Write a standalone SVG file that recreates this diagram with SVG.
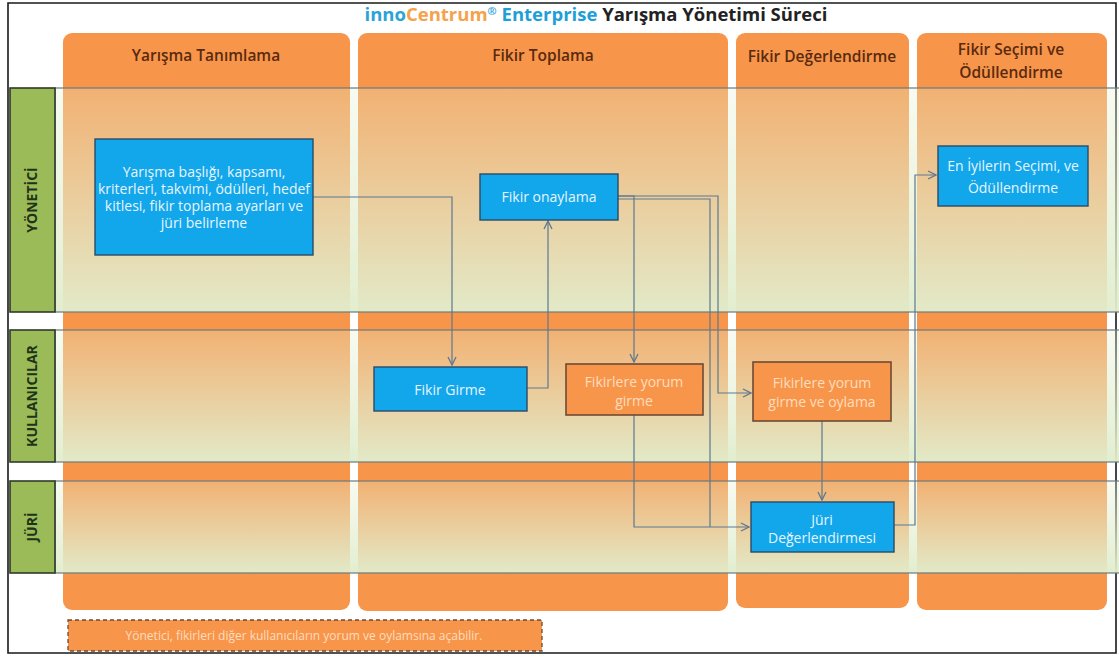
<svg xmlns="http://www.w3.org/2000/svg" width="1119" height="657" viewBox="0 0 1119 657">
<defs>
<linearGradient id="laneG" x1="0" y1="0" x2="0" y2="1">
<stop offset="0" stop-color="#e4f0d2" stop-opacity="0.3"/>
<stop offset="1" stop-color="#e1edcd" stop-opacity="0.96"/>
</linearGradient>
<marker id="arr" viewBox="0 0 10 10" refX="9" refY="5" markerWidth="10" markerHeight="10" markerUnits="userSpaceOnUse" orient="auto">
<path d="M1,1 L9,5 L1,9" fill="none" stroke="#5d7890" stroke-width="1.3"/>
</marker>
<style>
.col{fill:#f7964a;}
.lane{fill:url(#laneG);stroke:#6c7a7c;stroke-width:1.2;}
.lab{fill:#9bbb59;stroke:#2f3a2a;stroke-width:1.6;}
.labt{font-family:"Open Sans","DejaVu Sans",sans-serif;font-size:14px;font-weight:700;fill:#1f3318;text-anchor:middle;}
.hdr{font-family:"Open Sans","DejaVu Sans",sans-serif;font-size:15.5px;font-weight:600;fill:#5a2a10;text-anchor:middle;}
.blue{fill:#12a6ea;stroke:#2b4a66;stroke-width:1.4;}
.orng{fill:#f7964a;stroke:#6f4a33;stroke-width:1.6;}
.nt{font-family:"Open Sans","DejaVu Sans",sans-serif;font-size:14px;fill:#e6f5ff;text-anchor:middle;}
.ot{font-family:"Open Sans","DejaVu Sans",sans-serif;font-size:14px;fill:#ffdcbf;text-anchor:middle;}
.con{fill:none;stroke:#5d7890;stroke-width:1.2;}
</style>
</defs>
<rect x="0" y="0" width="1119" height="657" fill="#ffffff"/>
<!-- frame -->
<path d="M8,3 H1116 V653 H8 Z" fill="none" stroke="#1a1a1a" stroke-width="1.6"/>
<!-- title -->
<text x="596" y="21" text-anchor="middle" font-family="'Open Sans','DejaVu Sans',sans-serif" font-size="18.5" font-weight="700"><tspan fill="#2aa3d6">inno</tspan><tspan fill="#f5a24a">Centrum</tspan><tspan fill="#2aa3d6" font-size="11" dy="-6">®</tspan><tspan fill="#1e9fd8" dy="6"> Enterprise</tspan><tspan fill="#222222"> Yarışma Yönetimi Süreci</tspan></text>
<!-- columns -->
<g id="columns">
<rect class="col" x="63" y="33" width="287" height="577" rx="9"/>
<rect class="col" x="358" y="33" width="370" height="578" rx="9"/>
<rect class="col" x="736" y="33" width="173" height="575" rx="9"/>
<rect class="col" x="917" y="33" width="190" height="577" rx="9"/>
<text class="hdr" x="206" y="61">Yarışma Tanımlama</text>
<text class="hdr" x="543" y="61">Fikir Toplama</text>
<text class="hdr" x="822" y="62">Fikir Değerlendirme</text>
<text class="hdr" x="1011" y="55">Fikir Seçimi ve</text>
<text class="hdr" x="1011" y="78">Ödüllendirme</text>
</g>
<!-- lanes -->
<g id="lane-yonetici">
<rect class="lane" x="55" y="88" width="1066" height="224"/>
<rect class="lab" x="10" y="88" width="45" height="224"/>
<text class="labt" transform="translate(37,200) rotate(-90)">YÖNETİCİ</text>
</g>
<g id="lane-kullanicilar">
<rect class="lane" x="55" y="330" width="1066" height="132"/>
<rect class="lab" x="10" y="330" width="45" height="132"/>
<text class="labt" transform="translate(37,396) rotate(-90)" font-size="14.5">KULLANICILAR</text>
</g>
<g id="lane-juri">
<rect class="lane" x="55" y="481" width="1066" height="92"/>
<rect class="lab" x="10" y="481" width="45" height="92"/>
<text class="labt" transform="translate(37,527) rotate(-90)">JÜRİ</text>
</g>
<!-- connectors -->
<g id="connectors">
<path class="con" d="M313,197 H452 V365" marker-end="url(#arr)"/>
<path class="con" d="M527,388 H548 V221" marker-end="url(#arr)"/>
<path class="con" d="M618,196 H634 V362" marker-end="url(#arr)"/>
<path class="con" d="M618,196 H718 V393 H751" marker-end="url(#arr)"/>
<path class="con" d="M618,199 H710 V527"/>
<path class="con" d="M634,415 V527 H749" marker-end="url(#arr)"/>
<path class="con" d="M822,421 V500" marker-end="url(#arr)"/>
<path class="con" d="M894,525 H915 V175 H936" marker-end="url(#arr)"/>
</g>
<!-- nodes -->
<g id="n-tanimlama">
<rect class="blue" x="95" y="139" width="218" height="116"/>
<text class="nt" x="204" y="177">Yarışma başlığı, kapsamı,</text>
<text class="nt" x="204" y="194">kriterleri, takvimi, ödülleri, hedef</text>
<text class="nt" x="204" y="211">kitlesi, fikir toplama ayarları ve</text>
<text class="nt" x="204" y="228">jüri  belirleme</text>
</g>
<g id="n-onaylama">
<rect class="blue" x="480" y="174" width="138" height="46"/>
<text class="nt" x="549" y="202">Fikir onaylama</text>
</g>
<g id="n-secim">
<rect class="blue" x="938" y="146" width="150" height="60"/>
<text class="nt" x="1013" y="171">En İyilerin Seçimi, ve</text>
<text class="nt" x="1013" y="193">Ödüllendirme</text>
</g>
<g id="n-girme">
<rect class="blue" x="374" y="367" width="153" height="44"/>
<text class="nt" x="450" y="395">Fikir Girme</text>
</g>
<g id="n-yorum">
<rect class="orng" x="566" y="364" width="137" height="51"/>
<text class="ot" x="634" y="387">Fikirlere yorum</text>
<text class="ot" x="634" y="406">girme</text>
</g>
<g id="n-oylama">
<rect class="orng" x="753" y="362" width="138" height="59"/>
<text class="ot" x="822" y="388">Fikirlere yorum</text>
<text class="ot" x="822" y="407">girme ve oylama</text>
</g>
<g id="n-juri">
<rect class="blue" x="751" y="502" width="143" height="50"/>
<text class="nt" x="822" y="525">Jüri</text>
<text class="nt" x="822" y="543">Değerlendirmesi</text>
</g>
<!-- note -->
<g id="note">
<rect x="68" y="620" width="474" height="31" fill="#f7964a" stroke="#6f4a33" stroke-width="1.3" stroke-dasharray="4,3"/>
<text x="304" y="640" text-anchor="middle" font-family="'Open Sans','DejaVu Sans',sans-serif" font-size="12" fill="#ffdcbf">Yönetici, fikirleri diğer kullanıcıların yorum ve oylamsına açabilir.</text>
</g>
</svg>
